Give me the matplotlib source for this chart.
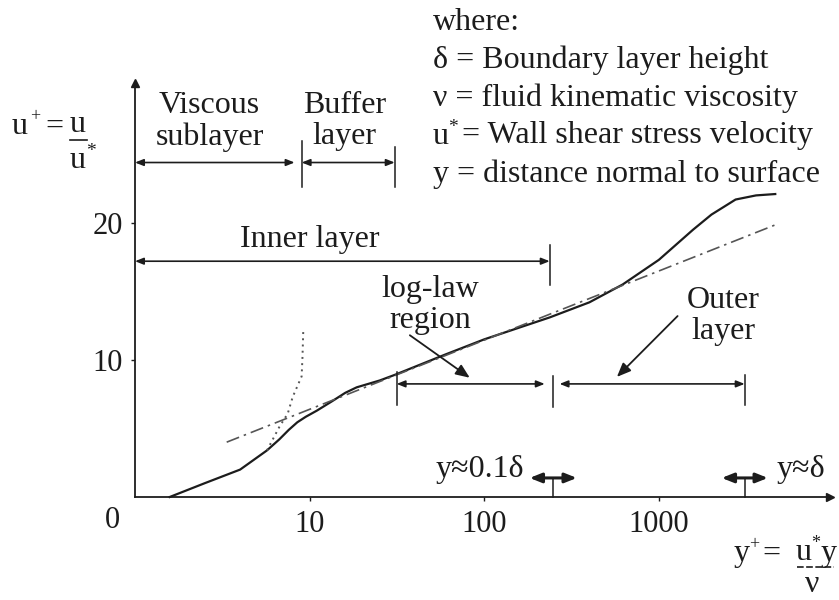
import matplotlib.pyplot as plt

plt.rcParams['font.family'] = ['Liberation Serif', 'DejaVu Serif']
plt.rcParams['mathtext.fontset'] = 'stix'

INK = '#1c1c1c'
FS = 23
TICK_FS = 22

# velocity profile u+ against y+ (log axis)
profile_x = [1.58, 2.5, 4.0, 5.7, 6.7, 7.6, 8.5, 9.5, 11.0, 13.5, 16.0, 18.6, 25.2, 30.6,
             60, 100, 237, 400, 620, 1000, 1570, 2000, 2750, 3600, 4640]
profile_y = [0.0, 1.0, 2.0, 3.4, 4.2, 4.9, 5.45, 5.85, 6.3, 7.0, 7.6, 8.0, 8.5, 8.9,
             10.4, 11.5, 13.1, 14.2, 15.5, 17.3, 19.5, 20.6, 21.7, 22.0, 22.1]

# log-law line (dash-dot)
loglaw_x = [3.35, 4640]
loglaw_y = [4.0, 19.85]

# viscous sublayer u+ = y+ (dotted)
viscous_x = [5.7, 6.7, 7.5, 8.0, 9.0, 9.1, 9.2]
viscous_y = [3.4, 5.1, 6.1, 7.3, 8.8, 10.2, 12.2]

# region limits in y+
visc_end, buffer_start, buffer_end = 8.2, 9.0, 30.7
inner_end = 237
loglaw_start, loglaw_end = 31.5, 222
outer_start, outer_end = 270, 3100
tenth_delta = 247
delta = 3100

xticks = [10, 100, 1000]
yticks = [10, 20]

fig = plt.figure(figsize=(8.39, 6.0), dpi=100)
ax = fig.add_axes([135 / 839, 103 / 600, 695 / 839, 414 / 600])
ax.set_xscale('log')
ax.set_xlim(1, 9550)
ax.set_ylim(0, 30.2)
for s in ['top', 'right']:
    ax.spines[s].set_visible(False)
for s in ['left', 'bottom']:
    ax.spines[s].set_color(INK)
    ax.spines[s].set_linewidth(1.3)
ax.plot(1, 0, '>', color=INK, ms=6, transform=ax.transAxes, clip_on=False)
ax.plot(0, 1, '^', color=INK, ms=6, transform=ax.transAxes, clip_on=False)

ax.set_xticks(xticks)
ax.set_xticklabels([str(t) for t in xticks])
ax.xaxis.set_minor_locator(plt.NullLocator())
ax.set_yticks(yticks)
ax.set_yticklabels([str(t) for t in yticks])
ax.tick_params(axis='x', length=3, width=1, colors=INK, labelsize=TICK_FS, pad=6)
ax.tick_params(axis='y', length=3, width=1, colors=INK, labelsize=TICK_FS, pad=6)
ax.text(-0.033, -0.056, '0', transform=ax.transAxes, fontsize=TICK_FS, color=INK,
        ha='center', va='center')

# curves
ax.plot(profile_x, profile_y, color=INK, lw=1.6, clip_on=False)
ax.plot(loglaw_x, loglaw_y, color='#555555', lw=1.2, ls=(0, (8, 3, 1.5, 3)))
ax.plot(viscous_x, viscous_y, color='#555555', lw=1.4, ls=(0, (1, 2.2)))


def dim_arrow(x0, x1, y, heads='<|-|>', lw=1.2, ms=10):
    ax.annotate('', xy=(x1, y), xytext=(x0, y),
                arrowprops=dict(arrowstyle=heads + ',head_length=0.5,head_width=0.2',
                                color=INK, lw=lw, shrinkA=0, shrinkB=0,
                                mutation_scale=ms),
                annotation_clip=False)


def vtick(x, y0, y1):
    ax.plot([x, x], [y0, y1], color=INK, lw=1.1, clip_on=False)


# dimension arrows
dim_arrow(1, visc_end, 24.4)
dim_arrow(buffer_start, buffer_end, 24.4)
vtick(buffer_start, 22.6, 26.0)
vtick(buffer_end, 22.6, 25.5)
dim_arrow(1, inner_end, 17.2)
vtick(inner_end, 15.5, 18.4)
dim_arrow(loglaw_start, loglaw_end, 8.25)
vtick(loglaw_start, 6.7, 9.1)
vtick(tenth_delta, 6.6, 8.8)
dim_arrow(outer_start, outer_end, 8.25)
vtick(outer_end, 6.7, 8.9)

# bold markers for y ~ 0.1 delta and y ~ delta
for xc, xl, xr in [(tenth_delta, 182, 339), (delta, 2290, 4210)]:
    dim_arrow(xl, xr, 1.39, lw=2.2, ms=14)
    vtick(xc, 0, 1.39)

# region labels
ax.text(2.67, 27.4, 'Viscous\nsublayer', fontsize=FS, color=INK, ha='center',
        va='center', linespacing=1.1)
ax.text(15.9, 27.4, 'Buffer\nlayer', fontsize=FS, color=INK, ha='center',
        va='center', linespacing=1.1)
ax.text(10, 18.8, 'Inner layer', fontsize=FS, color=INK, ha='center', va='center')
ax.text(48.8, 14.0, 'log-law\nregion', fontsize=FS, color=INK, ha='center',
        va='center', linespacing=1.1)
ax.text(2330, 13.2, 'Outer\nlayer', fontsize=FS, color=INK, ha='center',
        va='center', linespacing=1.1)
ax.annotate('', xy=(82.6, 8.7), xytext=(37.5, 11.8),
            arrowprops=dict(arrowstyle='-|>,head_length=0.6,head_width=0.25',
                            color=INK, lw=1.3, shrinkA=0, shrinkB=0,
                            mutation_scale=14))
ax.annotate('', xy=(575, 8.76), xytext=(1280, 13.2),
            arrowprops=dict(arrowstyle='-|>,head_length=0.6,head_width=0.25',
                            color=INK, lw=1.3, shrinkA=0, shrinkB=0,
                            mutation_scale=14))
ax.text(170, 1.97, 'y≈0.1δ', fontsize=FS, color=INK, ha='right', va='center')
ax.text(4750, 1.97, 'y≈δ', fontsize=FS, color=INK, ha='left', va='center')


def ftext(px, py, s, size=FS, ha='left'):
    # text placed in figure pixels (from top-left)
    fig.text(px / 839, 1 - py / 600, s, fontsize=size, color=INK, ha=ha, va='center')


def fline(x0, x1, py, ls='-'):
    fig.add_artist(plt.Line2D([x0 / 839, x1 / 839], [1 - py / 600, 1 - py / 600],
                              color=INK, lw=1.2, ls=ls))


# legend of symbols
legend_lines = ['where:',
                'δ = Boundary layer height',
                'ν = fluid kinematic viscosity',
                '',
                'y = distance normal to surface']
legend_rows = [22, 60, 98, 136, 174]
for line, row in zip(legend_lines, legend_rows):
    ftext(433, row, line)
ftext(433, 136, 'u')
ftext(448, 128, '*', size=14)
ftext(462, 136, '= Wall shear stress velocity')

# y-axis label u+ = u / u*
ftext(12, 126, 'u')
ftext(30, 117, '+', size=13)
ftext(45, 127, '=')
ftext(78, 125, 'u', ha='center')
fline(70, 87, 140)
ftext(78, 161, 'u', ha='center')
ftext(91, 151, '*', size=14, ha='center')

# x-axis label y+ = u* y / nu
ftext(734, 553, 'y')
ftext(749, 545, '+', size=13)
ftext(762, 554, '=')
ftext(796, 553, 'u')
ftext(811, 544, '*', size=13)
ftext(821, 553, 'y')
fline(797, 834, 567, ls=(0, (4, 1.5)))
ftext(812, 584, 'ν', ha='center')

fig.savefig('out.png', dpi=100, facecolor='white')
